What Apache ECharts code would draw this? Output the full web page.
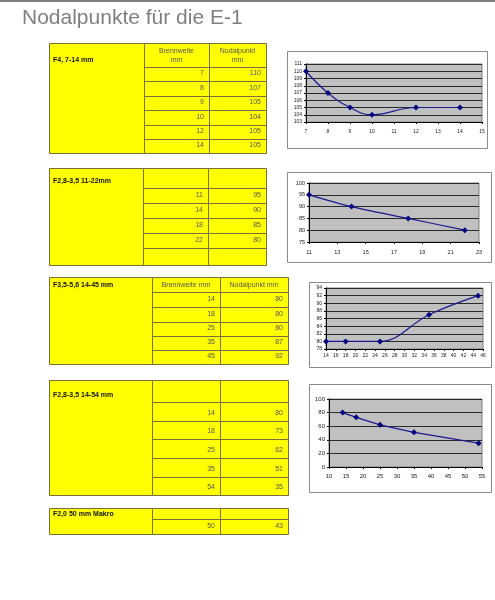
<!DOCTYPE html>
<html><head><meta charset="utf-8">
<script src="https://cdn.jsdelivr.net/npm/echarts@6/dist/echarts.min.js"></script>
<style>html,body{margin:0;padding:0;background:#fff}#c{width:495px;height:600px}</style>
</head><body><div id="c"></div>
<script>
// ---- data ----
const pageTitle = 'Nodalpunkte für die E-1';
const lensNames = ['F4, 7-14 mm', 'F2,8-3,5 11-22mm', 'F3,5-5,6 14-45 mm', 'F2,8-3,5 14-54 mm', 'F2,0 50 mm Makro'];
const headerTwoLine = ['Brennweite\nmm', 'Nodalpunkt\nmm'];
const headerOneLine = ['Brennweite mm', 'Nodalpunkt mm'];
const headerEmpty = ['', ''];
const focal1 = [7, 8, 9, 10, 12, 14];
const nodal1 = [110, 107, 105, 104, 105, 105];
const focal2 = [11, 14, 18, 22];
const nodal2 = [95, 90, 85, 80];
const focal3 = [14, 18, 25, 35, 45];
const nodal3 = [80, 80, 80, 87, 92];
const focal4 = [14, 18, 25, 35, 54];
const nodal4 = [80, 73, 62, 51, 35];
const focal5 = [50];
const nodal5 = [43];
const xTicks2 = [11, 13, 15, 17, 19, 21, 23];

// ---- layout / style ----
const YEL = '#ffff00', BRD = '#77703a', TXT = '#555555', FONT = '"Liberation Sans", Arial, sans-serif';
const NAVY = '#000080';
const tables = [
  {name: lensNames[0], head: headerTwoLine, focal: focal1, nodal: nodal1, cols: [49,144,209,266], rows: [43,67,81,96,110,125,139,153]},
  {name: lensNames[1], head: headerEmpty, focal: focal2, nodal: nodal2, cols: [49,143,208,266], rows: [168,188,203,218,233,248,265]},
  {name: lensNames[2], head: headerOneLine, focal: focal3, nodal: nodal3, cols: [49,152,220,288], rows: [277,292,307,322,336,350,364]},
  {name: lensNames[3], head: headerEmpty, focal: focal4, nodal: nodal4, cols: [49,152,220,288], rows: [380,402,421,439,458,477,495]},
  {name: lensNames[4], head: headerEmpty, focal: focal5, nodal: nodal5, cols: [49,152,220,288], rows: [508,519,534]}
];
const frames = [[287,51,200,97],[287,172,204,90],[309,282,182,85],[309,384,182,108]];

const graphic = [];
graphic.push({type:'rect', shape:{x:0,y:0,width:495,height:2}, style:{fill:'#808080'}, silent:true});
graphic.push({type:'text', x:22, y:8, style:{text:pageTitle, font:'21px ' + FONT, fill:'#7f7f7f'}, silent:true});
frames.forEach(f => graphic.push({type:'rect', z:-10, shape:{x:f[0]+0.5,y:f[1]+0.5,width:f[2],height:f[3]}, style:{fill:'#fff', stroke:'#8a8a8a', lineWidth:1}, silent:true}));

function cell(x0,y0,x1,y1){
  graphic.push({type:'rect', shape:{x:x0+0.5,y:y0+0.5,width:x1-x0,height:y1-y0}, style:{fill:YEL, stroke:BRD, lineWidth:1}, silent:true});
}
function txt(s,x,y,align,bold){
  graphic.push({type:'text', z:5, x:x, y:y, style:{text:String(s), font:(bold?'bold ':'') + '7px ' + FONT, fill:bold?'#111':TXT, align:align, verticalAlign:'bottom', lineHeight:9.5}, silent:true});
}
tables.forEach(t => {
  const c = t.cols, r = t.rows, last = r[r.length-1];
  cell(c[0], r[0], c[1], last);
  for (let i = 0; i < r.length-1; i++) {
    cell(c[1], r[i], c[2], r[i+1]);
    cell(c[2], r[i], c[3], r[i+1]);
  }
  txt(t.name, c[0]+4, Math.max(r[1]-2, r[0]+11), 'left', true);
  txt(t.head[0], (c[1]+c[2])/2, r[1]-2, 'center', false);
  txt(t.head[1], (c[2]+c[3])/2, r[1]-2, 'center', false);
  t.focal.forEach((f,k) => {
    const yb = r[k+2];
    txt(f, c[2]-5, yb-3, 'right', false);
    txt(t.nodal[k], c[3]-5, yb-3, 'right', false);
  });
});

const grids = [
  {left:306, top:64, width:176, height:58},
  {left:309, top:183, width:170, height:59},
  {left:326, top:288, width:157, height:61},
  {left:329, top:399, width:153, height:68}
];
const axisDefs = [
  {x:[7,15,1], y:[103,111,1], fs:5, m:7},
  {x:[11,23,2], y:[75,100,5], fs:5.5, m:7, xc: xTicks2},
  {x:[14,46,2], y:[78,94,2], fs:5, m:4},
  {x:[10,55,5], y:[0,100,20], fs:6, m:6}
];
const xAxis = [], yAxis = [];
axisDefs.forEach((a,i) => {
  const common = {gridIndex:i, type:'value',
    axisLine:{show:true, onZero:false, lineStyle:{color:'#000', width:1}},
    axisTick:{show:true, length:2, lineStyle:{color:'#000'}}};
  const xa = Object.assign({}, common, {min:a.x[0], max:a.x[1], interval:a.x[2],
    axisLabel:{fontSize:a.fs, color:'#222', margin:a.m, fontFamily:FONT},
    splitLine:{show:false}});
  if (a.xc) {
    xa.axisLabel.customValues = a.xc;
    xa.axisTick = Object.assign({}, xa.axisTick, {customValues: a.xc});
  }
  xAxis.push(xa);
  yAxis.push(Object.assign({}, common, {min:a.y[0], max:a.y[1], interval:a.y[2],
    axisLabel:{fontSize:a.fs, color:'#222', margin:4, fontFamily:FONT},
    splitLine:{show:true, lineStyle:{color:'#2a2a2a', width:1}}}));
});
const seriesData = [[focal1,nodal1,0.45],[focal2,nodal2,0.3],[focal3,nodal3,0.4],[focal4,nodal4,0]];
const series = seriesData.map((s,i) => ({
  type:'line', xAxisIndex:i, yAxisIndex:i,
  data: s[0].map((f,k) => [f, s[1][k]]),
  smooth: s[2], symbol:'diamond', symbolSize:6,
  lineStyle:{color:'#1a1a90', width:1.2}, itemStyle:{color:NAVY},
  silent:true
}));

const chart = echarts.init(document.getElementById('c'));
chart.setOption({
  animation:false,
  grid: grids.map(g => Object.assign({show:true, backgroundColor:'#c0c0c0', borderColor:'#808080', borderWidth:1}, g)),
  xAxis, yAxis, series, graphic
});
</script></body></html>
